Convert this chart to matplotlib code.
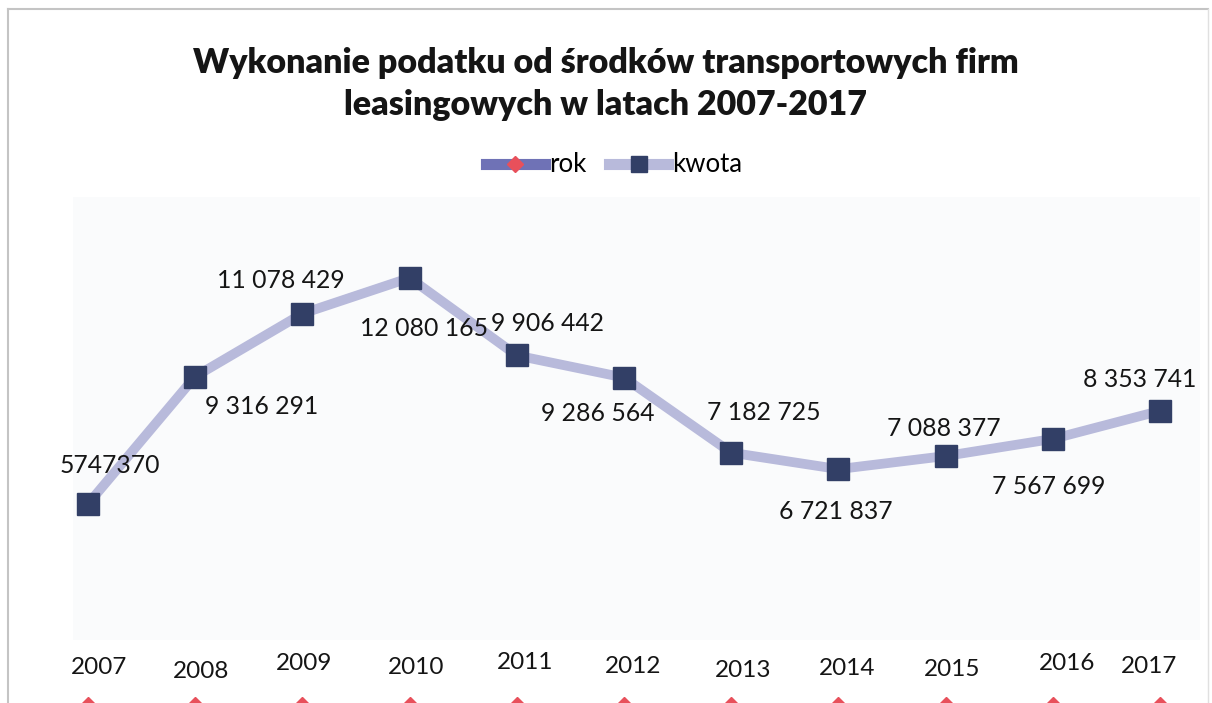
import matplotlib
matplotlib.use("Agg")
import matplotlib.pyplot as plt
from matplotlib.lines import Line2D
from matplotlib.patches import Rectangle

# ---- data ----
years = [2007, 2008, 2009, 2010, 2011, 2012, 2013, 2014, 2015, 2016, 2017]
kwota = [5747370, 9316291, 11078429, 12080165, 9906442, 9286564,
         7182725, 6721837, 7088377, 7567699, 8353741]
kwota_labels = ["5747370", "9 316 291", "11 078 429", "12 080 165", "9 906 442",
                "9 286 564", "7 182 725", "6 721 837", "7 088 377", "7 567 699",
                "8 353 741"]
title = "Wykonanie podatku od środków transportowych firm\nleasingowych w latach 2007-2017"

# ---- label placement (pixel offsets from the point, text centre) ----
kwota_off = [(22, 38), (66, -30), (-22, 33), (14, -51), (31, 32), (-26, -36),
             (33, 40), (-3, -42), (-2, 28), (-4, -48), (-20, 31)]
year_off = [(11, 41), (6, 37), (2, 45), (7, 41), (8, 46), (9, 42),
            (12, 38), (9, 40), (7, 39), (14, 45), (-11, 42)]

W, H = 1212, 703
fig = plt.figure(figsize=(W / 100, H / 100), dpi=100)
fig.patch.set_facecolor("white")
ax = fig.add_axes([0, 0, 1, 1])
ax.set_axis_off()

# map: index 0 -> x=88px, step 107.2 px ; value 0 -> y=709 px from top
x0, dx = 88, 107.2
y0, s = 709, 28021.0
ax.set_xlim(-x0 / dx, (W - x0) / dx)
ax.set_ylim((y0 - H) * s, y0 * s)

# faint plot-area background
ax.add_patch(Rectangle((0.06, 0.09), 0.93, 0.63, transform=fig.transFigure,
                       facecolor="#fafbfc", edgecolor="none", zorder=0))
# frame lines
fig.add_artist(Line2D([8 / W, 1208 / W], [1 - 9 / H, 1 - 9 / H], color="#c4c4c4", lw=1.5))
fig.add_artist(Line2D([8 / W, 8 / W], [0, 1 - 9 / H], color="#c4c4c4", lw=1.5))
fig.add_artist(Line2D([1208 / W, 1208 / W], [0, 1 - 9 / H], color="#e0e0e0", lw=1.0))

xs = list(range(len(years)))
rok_line, = ax.plot(xs, years, color="#6f72b6", lw=6, marker="D", markersize=12,
                    markerfacecolor="#e8505b", markeredgecolor="#e8505b", zorder=3)
kw_line, = ax.plot(xs, kwota, color="#b8badb", lw=7, marker="s", markersize=16,
                   markerfacecolor="#323f66", markeredgecolor="#323f66", zorder=4,
                   solid_joinstyle="round")

font = "Lato"
for i, (v, lab) in enumerate(zip(kwota, kwota_labels)):
    ox, oy = kwota_off[i]
    ax.annotate(lab, (i, v), xytext=(ox, oy), textcoords="offset pixels",
                ha="center", va="center", fontsize=17.8, family=font, color="#151515",
                zorder=5, annotation_clip=False)
for i, y in enumerate(years):
    ox, oy = year_off[i]
    ax.annotate(str(y), (i, y), xytext=(ox, oy), textcoords="offset pixels",
                ha="center", va="center", fontsize=17.5, family=font, color="#151515",
                zorder=5, annotation_clip=False)

fig.text(0.5, 1 - 84 / H, title, ha="center", va="center", fontsize=24.5,
         fontweight="heavy", family=font, color="#151515", linespacing=1.4)

leg = fig.legend([rok_line, kw_line], ["rok", "kwota"], loc="center",
                 bbox_to_anchor=(614 / W, 1 - 165 / H), ncol=2, frameon=False,
                 prop={"family": font, "size": 18.5}, handlelength=2.3,
                 handletextpad=0.15, columnspacing=0.9, markerscale=0.7)
for h in leg.legend_handles:
    h.set_linewidth(8)

fig.savefig("out.png", dpi=100)
